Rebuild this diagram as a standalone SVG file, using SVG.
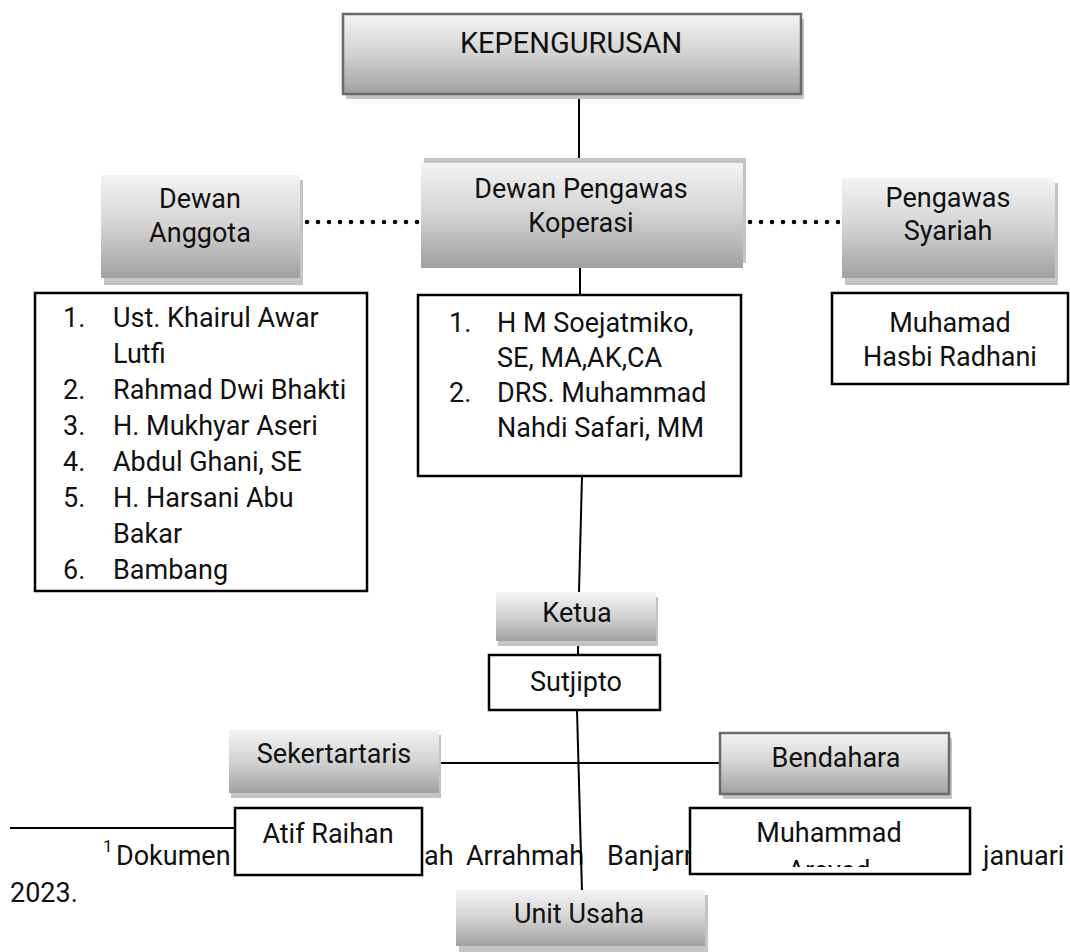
<svg xmlns="http://www.w3.org/2000/svg" width="1070" height="952" viewBox="0 0 1070 952">
<defs>
<linearGradient id="grad" x1="0" y1="0" x2="0" y2="1">
<stop offset="0" stop-color="#f4f4f4"/>
<stop offset="0.5" stop-color="#d2d2d2"/>
<stop offset="1" stop-color="#a0a0a0"/>
</linearGradient>
<clipPath id="clipM"><rect x="690" y="808" width="280" height="59"/></clipPath>
</defs>
<style>
text{font-family:Roboto,"Liberation Sans",sans-serif;font-size:27px;fill:#111}
.c{text-anchor:middle}
.sh{fill:#c4c4c4}
.gb{fill:url(#grad)}
.gbb{fill:url(#grad);stroke:#6a6a6a;stroke-width:2.5}
.wb{fill:#fff;stroke:#000;stroke-width:2.5}
.ln{stroke:#000;stroke-width:2;fill:none}
.dot{stroke:#000;stroke-width:4.5;stroke-linecap:round;stroke-dasharray:0 11;fill:none}
</style>
<rect width="1070" height="952" fill="#fff"/>

<g id="footnote">
<text x="103" y="852" style="font-size:17px">1</text>
<text x="116" y="865">Dokumen</text>
<text x="424" y="865">ah</text>
<text x="466" y="865">Arrahmah</text>
<text x="607" y="865">Banjarm</text>
<text x="983" y="865">januari</text>
<text x="10" y="902">2023.</text>
</g>

<g id="connectors">
<line class="ln" x1="579" y1="96" x2="579" y2="163"/>
<line class="ln" x1="580" y1="268" x2="580" y2="295"/>
<line class="ln" x1="582" y1="476" x2="579" y2="592"/>
<line class="ln" x1="578" y1="641" x2="578" y2="655"/>
<line class="ln" x1="577" y1="710" x2="582" y2="892"/>
<line class="ln" x1="440" y1="763" x2="720" y2="763"/>
<line class="ln" x1="10" y1="828" x2="235" y2="828"/>
<line class="dot" x1="307" y1="222" x2="418" y2="222"/>
<line class="dot" x1="750" y1="222" x2="849" y2="222"/>
</g>

<g id="kepengurusan">
<rect class="sh" x="346" y="19" width="458" height="80"/>
<rect class="gbb" x="343" y="14" width="458" height="80"/>
<text class="c" x="571" y="53" style="font-size:29px">KEPENGURUSAN</text>
</g>

<g id="dewan-anggota">
<rect class="sh" x="104" y="180" width="199" height="105"/>
<rect class="gb" x="101" y="175" width="199" height="103"/>
<text class="c" x="200" y="208">Dewan</text>
<text class="c" x="200" y="242">Anggota</text>
</g>

<g id="dewan-pengawas">
<rect class="sh" x="424" y="158" width="322" height="105"/>
<rect class="gb" x="421" y="163" width="322" height="105"/>
<text class="c" x="581" y="198">Dewan Pengawas</text>
<text class="c" x="581" y="232">Koperasi</text>
</g>

<g id="pengawas-syariah">
<rect class="sh" x="845" y="183" width="213" height="102"/>
<rect class="gb" x="842" y="178" width="213" height="100"/>
<text class="c" x="948" y="207">Pengawas</text>
<text class="c" x="948" y="240">Syariah</text>
</g>

<g id="anggota-list">
<rect class="wb" x="35" y="293" width="332" height="298"/>
<text x="63" y="327">1.</text><text x="113" y="327">Ust. Khairul Awar</text>
<text x="113" y="363">Lutfi</text>
<text x="63" y="399">2.</text><text x="113" y="399">Rahmad Dwi Bhakti</text>
<text x="63" y="435">3.</text><text x="113" y="435">H. Mukhyar Aseri</text>
<text x="63" y="471">4.</text><text x="113" y="471">Abdul Ghani, SE</text>
<text x="63" y="507">5.</text><text x="113" y="507">H. Harsani Abu</text>
<text x="113" y="543">Bakar</text>
<text x="63" y="579">6.</text><text x="113" y="579">Bambang</text>
</g>

<g id="pengawas-list">
<rect class="wb" x="418" y="295" width="323" height="181"/>
<text x="449" y="332">1.</text><text x="497" y="332">H M Soejatmiko,</text>
<text x="497" y="367">SE, MA,AK,CA</text>
<text x="449" y="402">2.</text><text x="497" y="402">DRS. Muhammad</text>
<text x="497" y="437">Nahdi Safari, MM</text>
</g>

<g id="syariah-name">
<rect class="wb" x="832" y="293" width="236" height="91"/>
<text class="c" x="950" y="332">Muhamad</text>
<text class="c" x="950" y="366">Hasbi Radhani</text>
</g>

<g id="ketua">
<rect class="sh" x="498" y="597" width="160" height="49"/>
<rect class="gb" x="496" y="592" width="160" height="49"/>
<text class="c" x="577" y="622">Ketua</text>
</g>

<g id="sutjipto">
<rect class="wb" x="489" y="655" width="171" height="55"/>
<text class="c" x="576" y="691">Sutjipto</text>
</g>

<g id="sekertartaris">
<rect class="sh" x="231" y="735" width="210" height="63"/>
<rect class="gb" x="229" y="730" width="210" height="63"/>
<text class="c" x="334" y="763">Sekertartaris</text>
</g>

<g id="bendahara">
<rect class="sh" x="723" y="738" width="229" height="61"/>
<rect class="gbb" x="720" y="733" width="229" height="61"/>
<text class="c" x="836" y="767">Bendahara</text>
</g>

<g id="atif">
<rect class="wb" x="235" y="808" width="187" height="67"/>
<text class="c" x="328" y="843">Atif Raihan</text>
</g>

<g id="muhammad">
<rect class="wb" x="690" y="808" width="280" height="66"/>
<text class="c" x="829" y="842">Muhammad</text>
<text class="c" x="829" y="880" clip-path="url(#clipM)">Arsyad</text>
</g>

<g id="unit-usaha">
<rect class="sh" x="459" y="895" width="249" height="57"/>
<rect class="gb" x="456" y="890" width="249" height="56"/>
<text class="c" x="579" y="923">Unit Usaha</text>
</g>
</svg>
